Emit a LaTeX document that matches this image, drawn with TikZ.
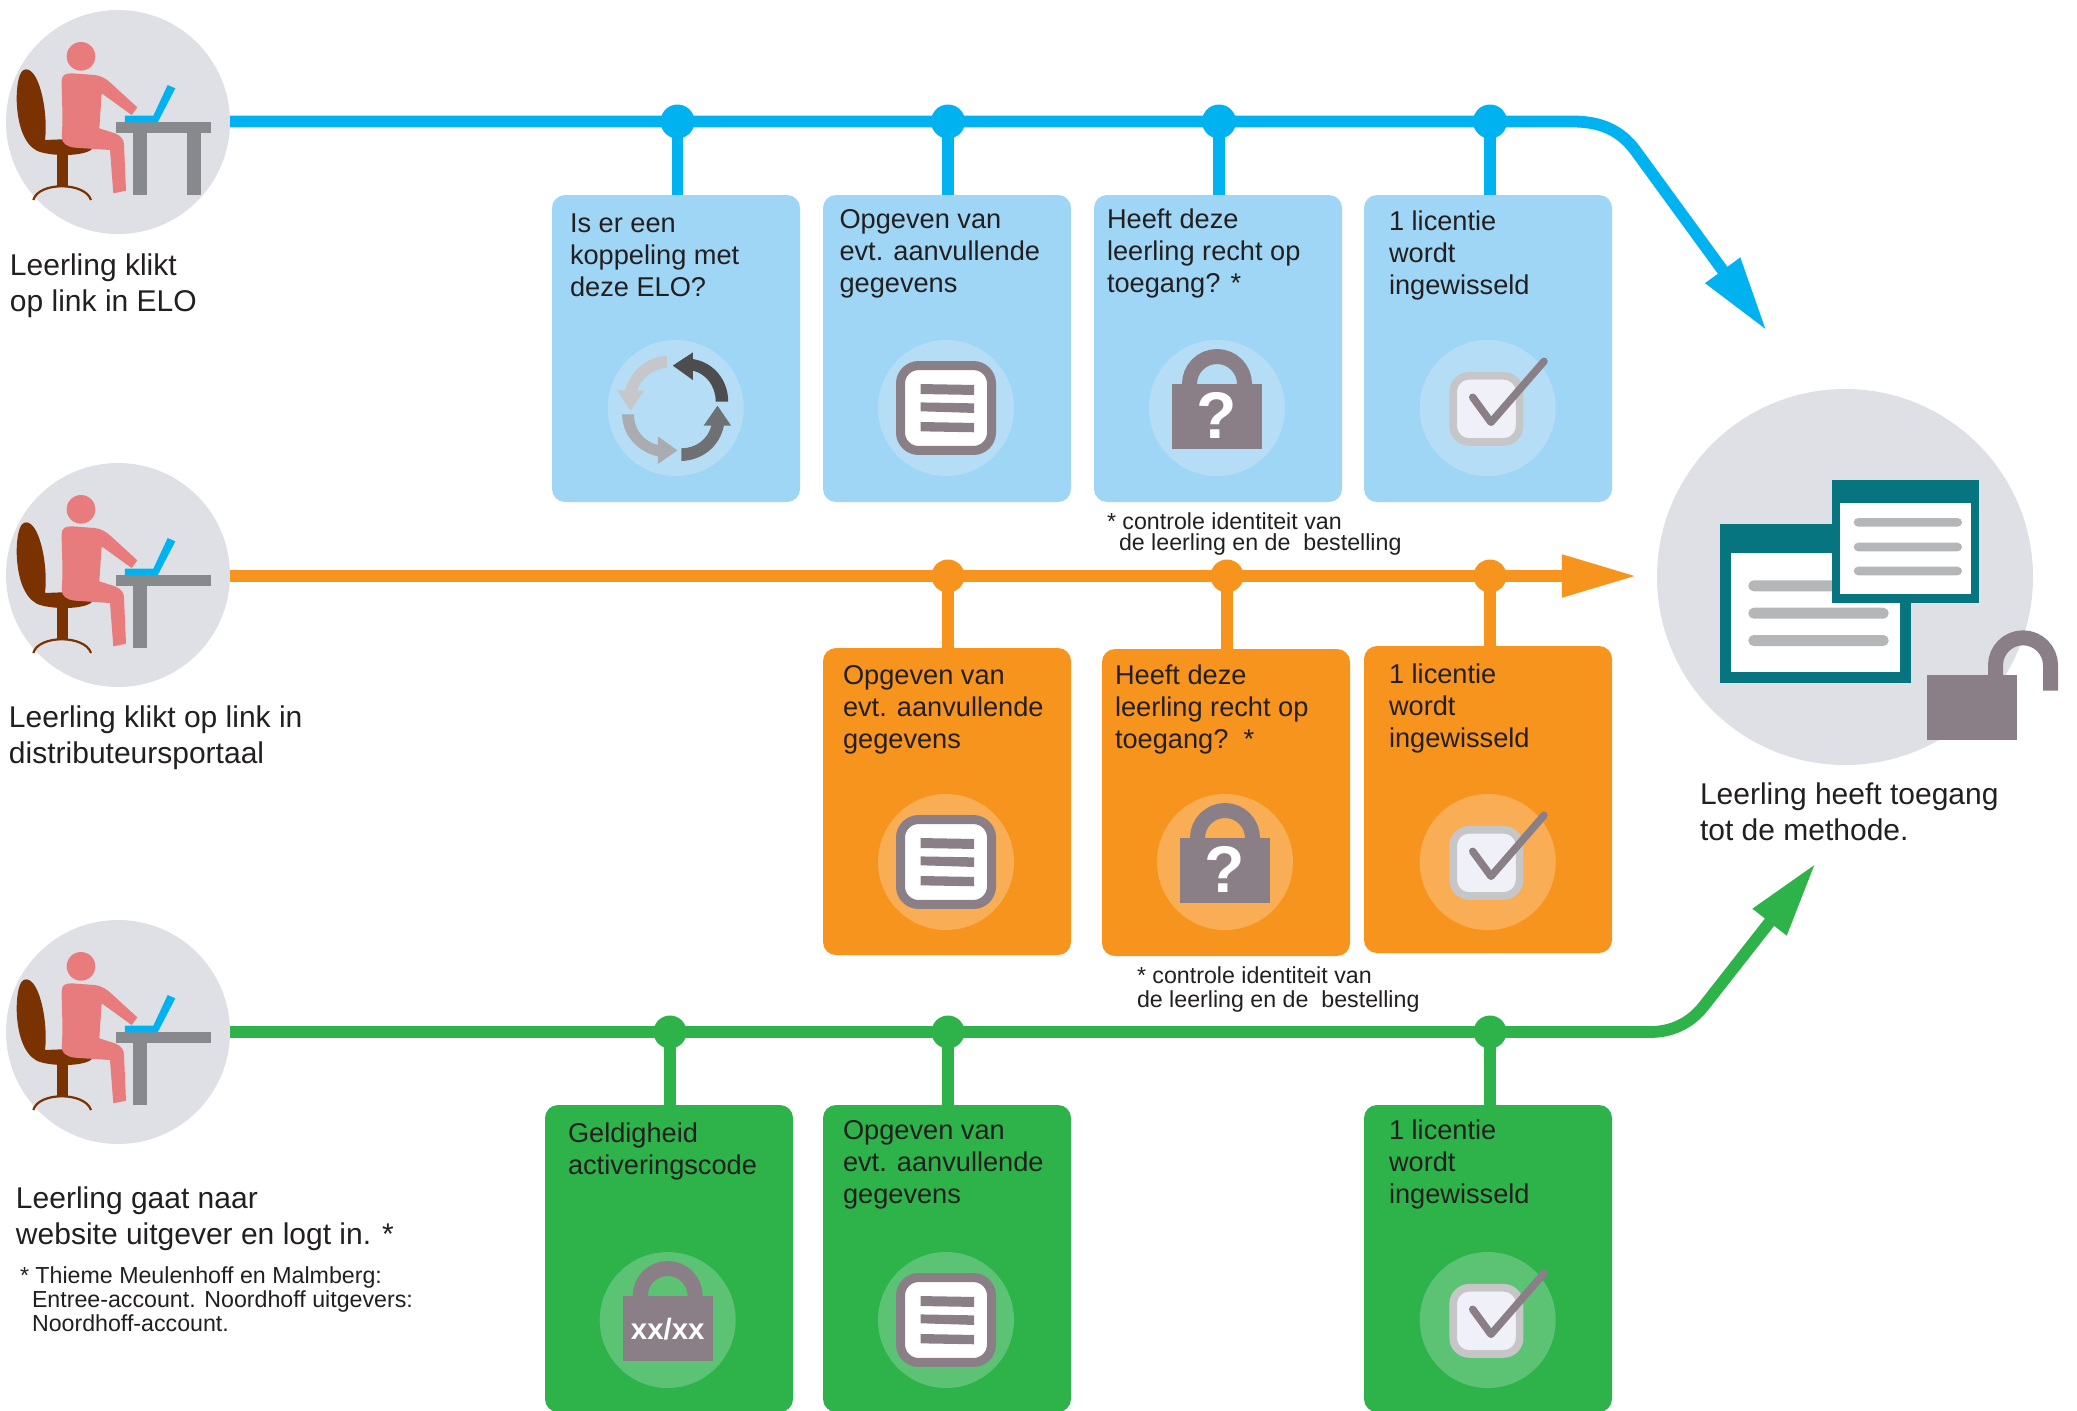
\documentclass[tikz,border=0pt]{standalone}
\usepackage{fontspec}
\setmainfont{Liberation Sans}
\usetikzlibrary{arrows.meta}
\definecolor{cblue}{HTML}{00B3F0}
\definecolor{cblueL}{HTML}{9FD5F5}
\definecolor{cblueI}{HTML}{B5DEF6}
\definecolor{corange}{HTML}{F7941E}
\definecolor{corangeI}{HTML}{F9AE55}
\definecolor{cgreen}{HTML}{2DB34A}
\definecolor{cgreenI}{HTML}{5CC274}
\definecolor{cgrey}{HTML}{DFE0E5}
\definecolor{cperson}{HTML}{E87B7B}
\definecolor{cchair}{HTML}{7A3300}
\definecolor{ctable}{HTML}{88898D}
\definecolor{clock}{HTML}{8B7F87}
\definecolor{cteal}{HTML}{06757F}
\definecolor{cbar}{HTML}{B5B6B8}
\definecolor{cink}{HTML}{231F20}
\definecolor{cycA}{HTML}{4D4D4F}
\definecolor{cycB}{HTML}{6F7073}
\definecolor{cycC}{HTML}{ABACB0}
\definecolor{cycD}{HTML}{C6C7CA}
\definecolor{chkB}{HTML}{C6C6C8}
\definecolor{chkF}{HTML}{F0F1F8}
\newcommand\tstrut{\rule{0pt}{12pt}}
\tikzset{
  txtbase/.style={anchor=north west,inner sep=0pt,outer sep=0pt,align=left,yshift=12pt,text=cink},
  bigtxt/.style={txtbase,font=\fontsize{15}{18}\selectfont},
  cardtxt/.style={txtbase,font=\fontsize{13.6}{16}\selectfont},
  notetxt/.style={txtbase,font=\fontsize{11.6}{12}\selectfont},
  notetxtb/.style={txtbase,font=\fontsize{11.6}{10.5}\selectfont},
  avatar/.style={circle,fill=cgrey,inner sep=0pt,outer sep=0pt,minimum size=112pt},
  dot/.style={circle,inner sep=0pt,outer sep=0pt,minimum size=#1},
  cardbox/.style={inner sep=0pt,outer sep=0pt,rounded corners=6.5pt,anchor=north west,minimum width=124pt,minimum height=153.5pt},
  headtip/.style={-{Triangle[length=37.4pt,width=20pt]}},
  person/.pic={
    \begin{scope}[shift={(-118,-122)},scale=1/3]
      \fill[cchair] (80,208) .. controls (55,205) and (50,260) .. (50,300) .. controls (52,370) and (70,430) .. (110,452) .. controls (150,470) and (250,470) .. (275,448) .. controls (260,430) and (215,415) .. (185,418) -- (135,420) .. controls (145,340) and (120,212) .. (80,208) -- cycle;
      \fill[cchair] (172,455) rectangle (203,560);
      \draw[cchair,line width=1.1pt] (100,600) .. controls (115,545) and (255,545) .. (273,600);
      \fill[ctable] (348,367) rectangle (633,400);
      \fill[ctable] (400,400) rectangle (442,585);
      \fill[cperson] (243,169) circle (43);
      \fill[cperson] (185,245) .. controls (185,225) and (195,220) .. (215,220) -- (285,225) .. controls (305,228) and (320,238) .. (330,247) -- (412,322) -- (395,345) -- (305,280) -- (298,385) -- (345,400) .. controls (365,408) and (372,420) .. (372,435) -- (378,572) -- (340,580) -- (330,450) -- (225,443) .. controls (200,440) and (185,430) .. (185,410) .. controls (190,350) and (185,300) .. (185,245) -- cycle;
      \fill[cblue] (375,347) -- (460,347) -- (503,255) -- (526,265) -- (473,367) -- (375,367) -- cycle;
    \end{scope}
  },
  legtwo/.pic={
    \begin{scope}[shift={(-118,-122)},scale=1/3]
      \fill[ctable] (560,400) rectangle (602,585);
    \end{scope}
  },
  cycleicon/.pic={
    \fill[cblueI] (0,0) circle (68);
    \begin{scope}[yscale=0.933]
    \fill[cycA] (52.5,-6.8) .. controls (52.5,-30) and (38,-49) .. (17.1,-52.5) -- (17.1,-59.6) -- (-2.9,-45.4) -- (17.1,-30) -- (17.1,-40) .. controls (30,-37) and (40,-24) .. (40,-6.8) -- cycle;
    \fill[cycB] (5.7,56.8) .. controls (27,56) and (44,41) .. (48.2,18.9) -- (55.4,18.9) -- (41.8,-2.5) -- (27.9,18.9) -- (35.7,18.9) .. controls (32,34) and (20,43) .. (5.7,43.2) -- cycle;
    \fill[cycC] (-41.8,6.8) .. controls (-41.8,23) and (-32,36) .. (-17.9,39.6) -- (-17.9,30.4) -- (1.8,45.4) -- (-17.9,60) -- (-17.9,51.8) .. controls (-38,47) and (-53.6,29) .. (-53.6,6.8) -- cycle;
    \fill[cycD] (-8.6,-43.2) .. controls (-22,-42) and (-34,-33) .. (-38.6,-18.9) -- (-31.4,-18.9) -- (-45.4,2.9) -- (-58.6,-18.9) -- (-50.7,-18.9) .. controls (-45,-40) and (-29,-55) .. (-8.6,-56) -- cycle;
    \end{scope}
  },
  listicon/.pic={
    \fill[#1] (0,0) circle (68);
    \begin{scope}[yscale=0.933]
    \draw[clock,line width=4.5pt,fill=white,rounded corners=9pt] (-45.5,-45.5) rectangle (45.5,45.5);
    \fill[clock] (-25.4,-25.7) -- (28,-24.7) -- (28,-14) -- (-25.4,-15) -- cycle;
    \fill[clock] (-25.4,-6) -- (28,-5) -- (28,5.3) -- (-25.4,3.5) -- cycle;
    \fill[clock] (-25.4,15) -- (28,16) -- (28,26) -- (-25.4,25) -- cycle;
    \end{scope}
  },
  qlock/.pic={
    \fill[#1] (0,0) circle (68);
    \draw[clock,line width=7.5pt] (-27.5,-20) -- (-27.5,-24) arc[start angle=180,end angle=360,radius=27.5] -- (27.5,-20);
    \fill[clock] (-45,-24.3) rectangle (45,40.7);
    \node[text=white,font=\fontsize{33}{33}\selectfont\bfseries,inner sep=0pt] (qm) at (0,7) {?};
  },
  codelock/.pic={
    \fill[#1] (0,0) circle (68);
    \draw[clock,line width=7.5pt] (-27.5,-20) -- (-27.5,-24) arc[start angle=180,end angle=360,radius=27.5] -- (27.5,-20);
    \fill[clock] (-45,-24.3) rectangle (45,40.7);
    \node[text=white,font=\fontsize{14.7}{15}\selectfont\bfseries,inner sep=0pt] (cd) at (0,9) {xx/xx};
  },
  checkicon/.pic={
    \fill[#1] (0,0) circle (68);
    \draw[chkB,line width=3.85pt,fill=chkF,rounded corners=8pt] (-34.5,-32.2) rectangle (31.9,33.9);
    \draw[clock,line width=3.75pt,line cap=round,line join=round] (-15,-10.7) -- (3.3,14.3) -- (56.3,-46.7);
  },
  gotoicon/.pic={
    \fill[cteal] (-125,-53.3) rectangle (66,105.7);
    \fill[white] (-114,-24.3) rectangle (55,95);
    \foreach \yy in {3.3,30.7,58}{\fill[cbar,rounded corners=2.7pt] (-96.7,\yy) rectangle (43.7,\yy+11);}
    \fill[cteal] (-13,-96.7) rectangle (134,25.7);
    \fill[white] (-4.7,-74.3) rectangle (125.7,17);
    \foreach \yy in {-59,-34.3,-10.3}{\fill[cbar,rounded corners=2.2pt] (8.7,\yy) rectangle (117,\yy+8.6);}
    \draw[clock,line width=7.5pt] (150.5,100) -- (150.5,88.3) arc[start angle=180,end angle=360,radius=27.5] -- (205.5,113.7);
    \fill[clock] (82,97.7) rectangle (172,162.7);
  }
}
\begin{document}
\begin{tikzpicture}[x=0.5pt,y=-0.5pt]
\clip (0,0) rectangle (2077,1410);
\fill[white] (0,0) rectangle (2077,1410);

% avatars
\node[avatar] (a1) at (118,122) {};
\node[avatar] (a2) at (118,575) {};
\node[avatar] (a3) at (118,1032) {};
\pic at (a1.center) {person};
\pic at (a1.center) {legtwo};
\pic at (a2.center) {person};
\pic at (a3.center) {person};

% destination
\node[circle,fill=cgrey,inner sep=0pt,outer sep=0pt,minimum size=188pt] (goal) at (1845,577) {};

% cards
\foreach \nm/\xx in {c1/552,c2/823,c3/1094,c4/1364}
  \node[cardbox,fill=cblueL] (\nm) at (\xx,195) {};
\node[cardbox,fill=corange] (o1) at (823,648) {};
\node[cardbox,fill=corange] (o2) at (1102,649) {};
\node[cardbox,fill=corange] (o3) at (1364,646) {};
\foreach \nm/\xx in {g1/545,g2/823,g3/1364}
  \node[cardbox,fill=cgreen] (\nm) at (\xx,1105) {};

% junctions
\foreach \nm/\xx in {b1/677.5,b2/948,b3/1219,b4/1490}
  \node[dot=17pt,fill=cblue] (\nm) at (\xx,121.5) {};
\foreach \nm/\xx in {r1/948,r2/1227,r3/1490}
  \node[dot=16.5pt,fill=corange] (\nm) at (\xx,576) {};
\foreach \nm/\xx in {e1/670,e2/948,e3/1490}
  \node[dot=16.5pt,fill=cgreen] (\nm) at (\xx,1032) {};

% stems
\foreach \a/\b in {b1/c1,b2/c2,b3/c3,b4/c4}
  \draw[cblue,line width=5.9pt] (\a.center) -- (\a.center |- \b.north);
\foreach \a/\b in {r1/o1,r2/o2,r3/o3}
  \draw[corange,line width=5.9pt] (\a.center) -- (\a.center |- \b.north);
\foreach \a/\b in {e1/g1,e2/g2,e3/g3}
  \draw[cgreen,line width=5.9pt] (\a.center) -- (\a.center |- \b.north);

% main lines
\coordinate (bt) at (1766.7,330.7);
\coordinate (ot) at (1636.7,576);
\coordinate (gt) at (1815.7,863.3);
\draw[cblue,line width=5.9pt,headtip]
  (a1.east |- b1.center) -- (b1.center) -- (b2.center) -- (b3.center) -- (b4.center) -- (1573,121.5) .. controls (1600,121.5) and (1620,130) .. (1635,150) -- (bt);
\draw[corange,line width=5.7pt,headtip]
  (a2.east |- r1.center) -- (r1.center) -- (r2.center) -- (r3.center) -- (ot);
\draw[cgreen,line width=5.9pt,headtip]
  (a3.east |- e1.center) -- (e1.center) -- (e2.center) -- (e3.center) -- (1650,1032) .. controls (1672,1032) and (1690,1023) .. (1703,1007) -- (gt);

% icons
\pic at (675.7,408) {cycleicon};
\pic at (946,408) {listicon=cblueI};
\pic at (1217,408) {qlock=cblueI};
\pic at (1487.7,408) {checkicon=cblueI};
\pic at (946,862) {listicon=corangeI};
\pic at (1225,862) {qlock=corangeI};
\pic at (1487.7,862) {checkicon=corangeI};
\pic at (667.7,1320) {codelock=cgreenI};
\pic at (946,1320) {listicon=cgreenI};
\pic at (1487.7,1320) {checkicon=cgreenI};
\pic at (goal.center) {gotoicon};

% texts
\node[bigtxt] (t1) at (10,275.5) {\tstrut Leerling klikt\\op link in ELO};
\node[bigtxt] (t2) at (9,727) {\tstrut Leerling klikt op link in\\distributeursportaal};
\node[bigtxt] (t3) at (16,1208) {\tstrut Leerling gaat naar\\website uitgever en logt in. *};
\node[notetxt] (t4) at (20,1283) {\tstrut * Thieme Meulenhoff en Malmberg:\\\hspace*{6pt}Entree-account. Noordhoff uitgevers:\\\hspace*{6pt}Noordhoff-account.};
\node[bigtxt] (t5) at (1700,804) {\tstrut Leerling heeft toegang\\tot de methode.};
\node[cardtxt] (tc1) at (570,232) {\tstrut Is er een\\koppeling met\\deze ELO?};
\node[cardtxt] (tc2) at (839.5,228) {\tstrut Opgeven van\\evt. aanvullende\\gegevens};
\node[cardtxt] (tc3) at (1107,228) {\tstrut Heeft deze\\leerling recht op\\toegang? *};
\node[cardtxt] (tc4) at (1389,230) {\tstrut 1 licentie\\wordt\\ingewisseld};
\node[cardtxt] (to1) at (843,684) {\tstrut Opgeven van\\evt. aanvullende\\gegevens};
\node[cardtxt] (to2) at (1115,684) {\tstrut Heeft deze\\leerling recht op\\toegang?\ \ *};
\node[cardtxt] (to3) at (1389,683) {\tstrut 1 licentie\\wordt\\ingewisseld};
\node[cardtxt] (tg1) at (568,1142) {\tstrut Geldigheid\\activeringscode};
\node[cardtxt] (tg2) at (843,1139) {\tstrut Opgeven van\\evt. aanvullende\\gegevens};
\node[cardtxt] (tg3) at (1389,1139) {\tstrut 1 licentie\\wordt\\ingewisseld};
\node[notetxtb] (n1) at (1107,529) {\tstrut * controle identiteit van\\\hspace*{6pt}de leerling en de \ bestelling};
\node[notetxt] (n2) at (1137,983) {\tstrut * controle identiteit van\\de leerling en de \ bestelling};
\end{tikzpicture}
\end{document}
